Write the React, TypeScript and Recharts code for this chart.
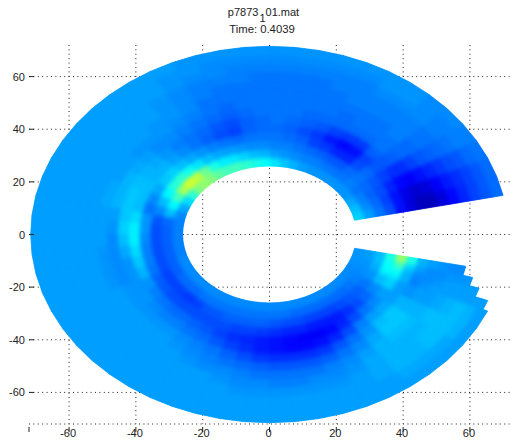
import React from "react";
import { ScatterChart, Scatter, XAxis, YAxis, CartesianGrid } from "recharts";

const W = 510, H = 442;
const M = { left: 29, right: 0, top: 45, bottom: 18 };
const UNIT_X = (W - M.left - M.right) / 144;
const UNIT_Y = (H - M.top - M.bottom) / 144;

const tickValues = [-60, -40, -20, 0, 20, 40, 60];
const ringEdges = [26, 29.25, 32.5, 35.75, 39, 42.25, 45.5, 48.75, 52, 55.25, 58.5, 61.75, 65, 68.25, 71.5];
const sectorEdges = [12, 18, 24, 30, 36, 42, 48, 54, 60, 66, 72, 78, 84, 90, 96, 102, 108, 114, 120, 126, 132, 138, 144, 150, 156, 162, 168, 174, 180, 186, 192, 198, 204, 210, 216, 222, 228, 234, 240, 246, 252, 258, 264, 270, 276, 282, 288, 294, 300, 306, 312, 318, 324, 330, 336, 339, 342, 345, 348.4];
const tailOuterRadius = [70, 66, 63, 60];

// Colour level (percent of the jet scale) per ring, inner to outer, one list per sector.
const a015 = [33, 28, 24, 20, 14, 9, 6, 6, 9, 13, 16, 19, 21, 23];
const a021 = [31, 26, 23, 19, 14, 10, 8, 9, 12, 15, 17, 19, 21, 23];
const a027 = [29, 25, 22, 20, 16, 13, 12, 14, 16, 18, 20, 21, 23, 24];
const a033 = [27, 24, 23, 21, 19, 17, 17, 19, 21, 22, 23, 24, 25, 25];
const a039 = [27, 25, 24, 23, 21, 21, 22, 23, 23, 24, 24, 25, 25, 26];
const a045 = [27, 24, 23, 20, 19, 22, 24, 24, 25, 25, 25, 26, 26, 26];
const a051 = [27, 24, 21, 16, 14, 18, 23, 24, 24, 25, 25, 26, 27, 27];
const a057 = [27, 24, 21, 16, 13, 18, 23, 24, 24, 25, 25, 26, 27, 27];
const a063 = [27, 25, 22, 18, 15, 19, 23, 23, 24, 25, 25, 25, 26, 27];
const a069 = [28, 25, 23, 19, 18, 21, 23, 24, 24, 24, 25, 25, 26, 27];
const a075 = [30, 26, 24, 22, 20, 22, 23, 24, 24, 24, 24, 25, 26, 27];
const a081 = [32, 27, 25, 23, 22, 23, 24, 24, 24, 24, 24, 25, 26, 27];
const a087 = [35, 28, 25, 24, 23, 24, 24, 24, 24, 24, 24, 25, 26, 27];
const a093 = [38, 30, 26, 24, 23, 23, 24, 24, 24, 24, 24, 25, 26, 27];
const a099 = [40, 31, 26, 24, 22, 22, 23, 24, 24, 24, 25, 25, 26, 27];
const a105 = [42, 33, 27, 23, 19, 20, 22, 23, 24, 24, 25, 26, 26, 27];
const a111 = [44, 35, 28, 24, 20, 21, 23, 24, 24, 25, 25, 26, 27, 27];
const a117 = [44, 36, 29, 25, 22, 23, 24, 25, 26, 26, 26, 27, 27, 28];
const a123 = [46, 40, 31, 27, 24, 24, 25, 26, 27, 27, 27, 28, 28, 28];
const a129 = [50, 48, 35, 29, 26, 25, 26, 27, 27, 28, 28, 28, 28, 28];
const a135 = [52, 56, 39, 31, 28, 27, 26, 27, 28, 28, 28, 28, 28, 28];
const a141 = [50, 58, 42, 33, 30, 29, 28, 27, 28, 28, 28, 28, 28, 28];
const a147 = [42, 54, 41, 32, 30, 30, 29, 28, 28, 28, 28, 28, 28, 28];
const a153 = [34, 44, 37, 29, 31, 31, 30, 28, 28, 28, 28, 28, 28, 28];
const a159 = [29, 37, 31, 26, 31, 32, 30, 29, 28, 28, 28, 28, 28, 28];
const a165 = [26, 31, 26, 24, 31, 32, 30, 29, 28, 28, 28, 28, 28, 28];
const a171 = [25, 23, 21, 27, 34, 32, 28, 28, 28, 28, 28, 28, 28, 28];
const a177 = [25, 22, 20, 27, 36, 33, 27, 28, 28, 28, 28, 28, 28, 28];
const a183 = [25, 22, 20, 26, 36, 31, 26, 28, 28, 28, 28, 28, 28, 28];
const a189 = [25, 22, 20, 25, 34, 29, 26, 27, 28, 28, 28, 28, 28, 28];
const a195 = [25, 22, 20, 25, 32, 27, 26, 27, 28, 28, 28, 28, 28, 28];
const a201 = [26, 22, 20, 24, 30, 27, 26, 27, 28, 28, 28, 28, 28, 28];
const a207 = [26, 22, 19, 22, 27, 27, 27, 28, 28, 28, 28, 28, 28, 28];
const a213 = [26, 23, 19, 21, 25, 27, 27, 28, 28, 28, 28, 28, 28, 28];
const a219 = [26, 23, 19, 20, 24, 26, 27, 28, 28, 28, 28, 28, 28, 28];
const a225 = [26, 23, 18, 20, 23, 25, 27, 28, 28, 28, 28, 28, 28, 28];
const a231 = [26, 24, 19, 20, 23, 25, 27, 28, 28, 28, 28, 28, 28, 28];
const a237 = [26, 24, 21, 20, 22, 24, 26, 27, 28, 28, 28, 28, 28, 28];
const a243 = [26, 24, 21, 20, 21, 23, 25, 26, 27, 28, 28, 28, 28, 28];
const a249 = [26, 24, 22, 20, 19, 21, 24, 25, 26, 28, 28, 28, 28, 28];
const a255 = [26, 24, 22, 19, 17, 19, 22, 24, 26, 27, 28, 28, 28, 28];
const a261 = [26, 24, 22, 19, 16, 17, 20, 23, 25, 26, 27, 28, 28, 28];
const a267 = [26, 24, 22, 18, 15, 15, 18, 22, 24, 26, 27, 28, 28, 28];
const a273 = [26, 24, 21, 17, 14, 14, 17, 21, 24, 25, 27, 28, 28, 28];
const a279 = [26, 24, 20, 16, 13, 13, 17, 21, 24, 25, 27, 28, 28, 28];
const a285 = [26, 23, 20, 16, 12, 13, 17, 21, 24, 26, 27, 28, 28, 28];
const a291 = [26, 23, 19, 15, 12, 14, 18, 22, 25, 26, 27, 28, 28, 28];
const a297 = [26, 23, 19, 15, 13, 16, 21, 24, 26, 27, 28, 28, 28, 28];
const a303 = [26, 23, 19, 15, 16, 20, 24, 26, 28, 29, 29, 29, 28, 28];
const a309 = [26, 23, 20, 17, 20, 25, 27, 29, 30, 30, 30, 30, 29, 28];
const a315 = [26, 23, 21, 20, 24, 28, 31, 32, 31, 30, 30, 30, 29, 28];
const a321 = [26, 24, 22, 23, 26, 29, 32, 32, 31, 30, 31, 31, 29, 28];
const a327 = [26, 25, 24, 26, 28, 28, 30, 30, 30, 31, 31, 31, 30, 28];
const a333 = [26, 26, 27, 31, 33, 28, 27, 28, 28, 29, 30, 31, 30, 28];
const a337 = [27, 27, 29, 36, 36, 30, 25, 27, 28, 28, 28, 28, 28, 28];
const a340 = [27, 27, 30, 38, 39, 30, 26, 26, 27, 28, 28, 28, 28, 28];
const a343 = [27, 28, 31, 38, 44, 33, 28, 26, 26, 27, 27, 27, 28, 28];
const a346 = [27, 28, 31, 40, 52, 40, 30, 28, 27, 26, 26, 26, 26, 26];

const sectors = [a015, a021, a027, a033, a039, a045, a051, a057, a063, a069, a075, a081, a087, a093, a099, a105, a111, a117, a123, a129, a135, a141, a147, a153, a159, a165, a171, a177, a183, a189, a195, a201, a207, a213, a219, a225, a231, a237, a243, a249, a255, a261, a267, a273, a279, a285, a291, a297, a303, a309, a315, a321, a327, a333, a337, a340, a343, a346];

function jet(level: number) {
  const t = level / 100;
  const c = (v: number) => Math.round(255 * Math.max(0, Math.min(1, v)));
  const r = Math.min(4 * t - 1.5, -4 * t + 4.5);
  const g = Math.min(4 * t - 0.5, -4 * t + 3.5);
  const b = Math.min(4 * t + 0.5, -4 * t + 2.5);
  return `rgb(${c(r)},${c(g)},${c(b)})`;
}

const rad = Math.PI / 180;
type Cell = { x: number; y: number; a0: number; a1: number; r0: number; r1: number; level: number };
const cells: Cell[] = [];
sectors.forEach((levels, i) => {
  const a0 = sectorEdges[i], a1 = sectorEdges[i + 1];
  const tail = i - (sectors.length - tailOuterRadius.length);
  const limit = tail >= 0 ? tailOuterRadius[tail] : Infinity;
  levels.forEach((level, j) => {
    const r0 = ringEdges[j];
    const r1 = Math.min(ringEdges[j + 1], limit);
    if (r1 <= r0) return;
    const am = ((a0 + a1) / 2) * rad, rm = (r0 + r1) / 2;
    cells.push({ x: rm * Math.cos(am), y: rm * Math.sin(am), a0, a1, r0, r1, level });
  });
});

function CellShape(props: any) {
  const { cx, cy, payload } = props;
  const p: Cell = payload;
  const px = (r: number, a: number) =>
    `${cx + (r * Math.cos(a * rad) - p.x) * UNIT_X},${cy - (r * Math.sin(a * rad) - p.y) * UNIT_Y}`;
  const points = [px(p.r0, p.a0), px(p.r1, p.a0), px(p.r1, p.a1), px(p.r0, p.a1)].join(" ");
  const fill = jet(p.level);
  return <polygon points={points} fill={fill} stroke={fill} strokeWidth={0.7} />;
}

// Outline of the whole ring, used to keep the softened colour layer inside the shape.
const CX = M.left + 72 * UNIT_X;
const CY = M.top + 72 * UNIT_Y;
const toPx = (r: number, a: number) => `${CX + r * Math.cos(a * rad) * UNIT_X},${CY - r * Math.sin(a * rad) * UNIT_Y}`;
const outerEdgePts: string[] = [];
const innerEdgePts: string[] = [];
sectorEdges.slice(0, -1).forEach((a0, i) => {
  const a1 = sectorEdges[i + 1];
  const tail = i - (sectors.length - tailOuterRadius.length);
  const ro = tail >= 0 ? tailOuterRadius[tail] : ringEdges[ringEdges.length - 1];
  outerEdgePts.push(toPx(ro, a0), toPx(ro, a1));
  innerEdgePts.unshift(toPx(ringEdges[0], a1), toPx(ringEdges[0], a0));
});
const ringOutline = [...outerEdgePts, ...innerEdgePts].join(" ");

const FONT = "'Liberation Sans', Arial, sans-serif";

function XTick({ x, y, payload }: any) {
  return (
    <g>
      <line x1={x} x2={x} y1={y} y2={y - 5} stroke="#222" strokeWidth={1} />
      {payload.value !== -72 && (
        <text x={x - 1} y={437} textAnchor="middle" fontFamily={FONT} fontSize={11} fill="#222">{payload.value}</text>
      )}
    </g>
  );
}

function YTick({ x, y, payload }: any) {
  return (
    <g>
      <line x1={29} x2={34} y1={y} y2={y} stroke="#222" strokeWidth={1} />
      <text x={25} y={y + 4} textAnchor="end" fontFamily={FONT} fontSize={11} fill="#222">{payload.value}</text>
    </g>
  );
}

export default function App() {
  return (
    <div style={{ position: "absolute", left: 0, top: 0, width: W, height: H }}>
      <style>{`.soft-cells { filter: blur(2.2px); clip-path: url(#ring-outline); }`}</style>
      <ScatterChart width={W} height={H} margin={{ left: 0, right: M.right, top: M.top, bottom: 0 }}>
        <defs>
          <clipPath id="ring-outline">
            <polygon points={ringOutline} />
          </clipPath>
        </defs>
        <CartesianGrid
          stroke="#222"
          strokeDasharray="1 3.4"
          horizontalValues={[-72, ...tickValues]}
          verticalValues={tickValues}
        />
        <XAxis
          type="number"
          dataKey="x"
          domain={[-72, 72]}
          ticks={[-72, ...tickValues]}
          interval={0}
          height={M.bottom}
          axisLine={false}
          tickLine={false}
          tick={<XTick />}
          allowDataOverflow
        />
        <YAxis
          type="number"
          dataKey="y"
          domain={[-72, 72]}
          ticks={tickValues}
          interval={0}
          width={M.left}
          axisLine={false}
          tickLine={false}
          tick={<YTick />}
          allowDataOverflow
        />
        <Scatter data={cells} isAnimationActive={false} shape={<CellShape />} />
        <Scatter data={cells} isAnimationActive={false} shape={<CellShape />} className="soft-cells" />
        <text x={263.5} y={15.5} textAnchor="middle" fontFamily={FONT} fontSize={11} fill="#222">
          p7873
          <tspan dy={6} dx={1}>1</tspan>
          <tspan dy={-6}>01.mat</tspan>
        </text>
        <text x={262} y={33} textAnchor="middle" fontFamily={FONT} fontSize={11.3} fill="#222">Time: 0.4039</text>
      </ScatterChart>
    </div>
  );
}
